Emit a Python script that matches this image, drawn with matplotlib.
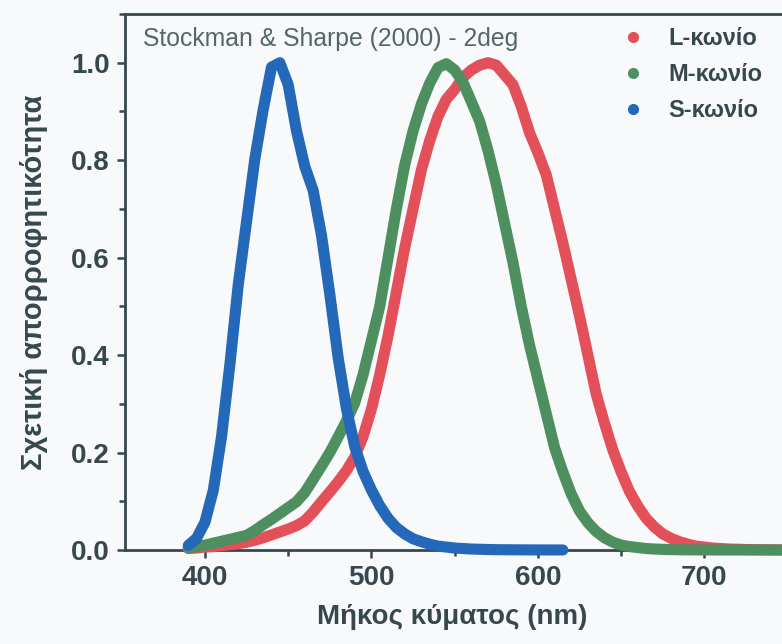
import matplotlib.pyplot as plt
from matplotlib.lines import Line2D
from matplotlib.ticker import MultipleLocator

# wavelengths (nm), 5 nm steps
wl_lm = list(range(390, 755, 5))
wl_s = list(range(390, 620, 5))

# L cone, relative absorbance
l_cone = [0.003, 0.004, 0.006, 0.007, 0.009, 0.011, 0.013, 0.016, 0.020, 0.025,
          0.031, 0.037, 0.043, 0.050, 0.060, 0.078, 0.099, 0.119, 0.140, 0.163,
          0.191, 0.233, 0.289, 0.360, 0.440, 0.530, 0.620, 0.700, 0.780, 0.840,
          0.890, 0.925, 0.945, 0.970, 0.985, 0.995, 1.000, 0.995, 0.975, 0.955,
          0.910, 0.856, 0.815, 0.770, 0.700, 0.630, 0.555, 0.480, 0.400, 0.320,
          0.260, 0.205, 0.160, 0.120, 0.090, 0.065, 0.047, 0.033, 0.024, 0.017,
          0.012, 0.008, 0.006, 0.004, 0.003, 0.002, 0.0015, 0.001, 0.0008, 0.0006,
          0.0004, 0.0003, 0.0002]

# M cone
m_cone = [0.004, 0.007, 0.010, 0.014, 0.018, 0.022, 0.026, 0.030, 0.040, 0.052,
          0.063, 0.075, 0.087, 0.099, 0.118, 0.145, 0.172, 0.200, 0.232, 0.265,
          0.302, 0.360, 0.430, 0.500, 0.600, 0.700, 0.790, 0.860, 0.915, 0.958,
          0.990, 0.998, 0.985, 0.960, 0.920, 0.880, 0.820, 0.750, 0.670, 0.590,
          0.500, 0.420, 0.350, 0.280, 0.210, 0.160, 0.115, 0.080, 0.056, 0.038,
          0.025, 0.016, 0.010, 0.007, 0.005, 0.003, 0.002, 0.0013, 0.0008, 0.0005,
          0.0003, 0.0002, 0.0001, 0.0001, 0.0, 0.0, 0.0, 0.0, 0.0, 0.0,
          0.0, 0.0, 0.0]

# S cone
s_cone = [0.0095, 0.024, 0.057, 0.122, 0.233, 0.381, 0.544, 0.674, 0.803, 0.904,
          0.991, 1.000, 0.955, 0.860, 0.787, 0.738, 0.646, 0.525, 0.395, 0.290,
          0.212, 0.161, 0.123, 0.091, 0.065, 0.046, 0.033, 0.023, 0.017, 0.012,
          0.008, 0.006, 0.004, 0.003, 0.002, 0.0015, 0.001, 0.0007, 0.0005, 0.0004,
          0.0003, 0.0002, 0.00014, 0.0001, 0.00008, 0.00006]

labels = ["L-κωνίο", "M-κωνίο", "S-κωνίο"]
colors = ["#e3505a", "#4d8f5f", "#2468ba"]

bg = "#f8f9fb"
ink = "#36474d"

plt.rcParams['font.family'] = ['Liberation Sans', 'DejaVu Sans']

fig = plt.figure(figsize=(7.82, 6.44), dpi=100, facecolor=bg)
ax = fig.add_axes([125 / 782, 94 / 644, 675 / 782, 536 / 644], facecolor=bg)

line_kw = dict(lw=8, solid_capstyle='round', solid_joinstyle='round', clip_on=False)
ax.plot(wl_lm, l_cone, color=colors[0], zorder=3, **line_kw)
ax.plot(wl_lm, m_cone, color=colors[1], zorder=4, **line_kw)
ax.plot(wl_s, s_cone, color=colors[2], zorder=5, **line_kw)

ax.set_xlim(352, 757.4)
ax.set_ylim(0, 1.1)

ax.xaxis.set_minor_locator(MultipleLocator(50))
ax.yaxis.set_minor_locator(MultipleLocator(0.1))
ax.set_yticks([0, 0.2, 0.4, 0.6, 0.8, 1.0])
ax.set_yticklabels(["0.0", "0.2", "0.4", "0.6", "0.8", "1.0"])
ax.set_xticks([400, 500, 600, 700])

for side in ['left', 'bottom', 'top', 'right']:
    ax.spines[side].set_color(ink)
    ax.spines[side].set_linewidth(2.0)

ax.tick_params(which='major', direction='out', length=6, width=1.8, color=ink,
               labelsize=20, labelcolor=ink, pad=5)
ax.tick_params(which='minor', direction='out', length=4, width=1.8, color=ink)
for lab in ax.get_xticklabels() + ax.get_yticklabels():
    lab.set_fontweight('bold')

ax.set_xlabel("Μήκος κύματος (nm)", fontsize=20, fontweight='bold', color=ink)
ax.xaxis.set_label_coords(0.484, -0.10)
ax.set_ylabel("Σχετική απορροφητικότητα", fontsize=21, fontweight='bold', color=ink)
ax.yaxis.set_label_coords(-0.114, 0.5)

ax.text(143 / 782, 1 - 39 / 644, "Stockman & Sharpe (2000) - 2deg", transform=fig.transFigure,
        fontsize=17.8, color="#55656b", ha='left', va='center')

handles = [Line2D([], [], marker='o', ls='none', ms=7, color=c) for c in colors]
leg = ax.legend(handles, labels, loc='upper left', bbox_to_anchor=(621 / 782, 1 - 27 / 644),
                bbox_transform=fig.transFigure, frameon=False, handlelength=1,
                handletextpad=1.0, labelspacing=0.55, borderpad=0, borderaxespad=0,
                prop={'size': 17, 'weight': 'bold'})
for t in leg.get_texts():
    t.set_color(ink)

fig.savefig("out.png", dpi=100, facecolor=bg)
